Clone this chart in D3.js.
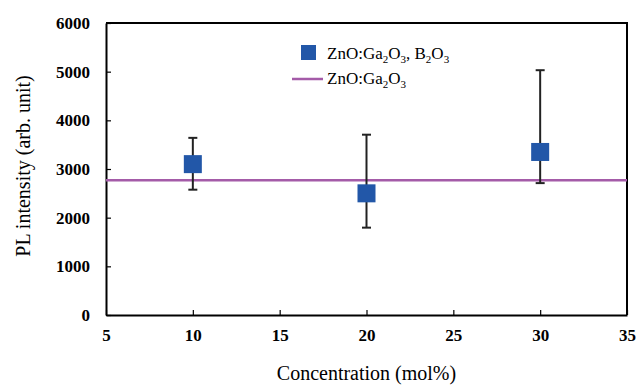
<!DOCTYPE html>
<html>
<head>
<meta charset="utf-8">
<script src="https://cdn.jsdelivr.net/npm/d3@7"></script>
<style>
  body { margin: 0; background: #fff; }
  svg text { font-family: "Liberation Serif", "DejaVu Serif", serif; fill: #000; }
</style>
</head>
<body>
<svg width="636" height="385" font-family="Liberation Serif, serif"></svg>
<script>
const concentrations = [10, 20, 30];
const intensities = [3100, 2500, 3350];
const errLow = [2575, 1795, 2710];
const errHigh = [3640, 3705, 5030];
const referenceLevel = 2770;
const xTicks = [5, 10, 15, 20, 25, 30, 35];
const yTicks = [0, 1000, 2000, 3000, 4000, 5000, 6000];

const svg = d3.select("svg");
const plotLeft = 106, plotRight = 627, plotTop = 23, plotBottom = 315;
const serif = "'Liberation Serif', 'DejaVu Serif', serif";

const x = d3.scaleLinear().domain([5, 35]).range([plotLeft, plotRight]);
const y = d3.scaleLinear().domain([0, 6000]).range([plotBottom, plotTop]);

// axes, ticks pointing inward
const xAxis = svg.append("g")
  .attr("transform", "translate(0," + plotBottom + ")")
  .call(d3.axisBottom(x).tickValues(xTicks).tickFormat(d3.format("d"))
    .tickSizeInner(-5).tickSizeOuter(0).tickPadding(14));
const yAxis = svg.append("g")
  .attr("transform", "translate(" + plotLeft + ",0)")
  .call(d3.axisLeft(y).tickValues(yTicks).tickFormat(d3.format("d"))
    .tickSizeInner(-5).tickSizeOuter(0).tickPadding(16));

[xAxis, yAxis].forEach(function (ax) {
  ax.attr("font-family", serif);
  ax.selectAll("text")
    .attr("font-family", serif)
    .attr("font-size", 17)
    .attr("font-weight", "bold")
    .attr("fill", "#000");
  ax.selectAll("line").attr("stroke", "#000").attr("stroke-width", 1.2);
  ax.select(".domain").attr("stroke", "#000").attr("stroke-width", 2);
});

// remaining frame
svg.append("path")
  .attr("d", "M" + plotLeft + "," + plotTop + "H" + plotRight + "V" + plotBottom)
  .attr("fill", "none")
  .attr("stroke", "#000")
  .attr("stroke-width", 2);

// reference line
svg.append("line")
  .attr("x1", plotLeft).attr("x2", plotRight)
  .attr("y1", y(referenceLevel)).attr("y2", y(referenceLevel))
  .attr("stroke", "#a45ba8")
  .attr("stroke-width", 2.5);

// error bars
const bars = svg.append("g").attr("stroke", "#222").attr("stroke-width", 2);
concentrations.forEach(function (c, i) {
  bars.append("line")
    .attr("x1", x(c)).attr("x2", x(c))
    .attr("y1", y(errLow[i])).attr("y2", y(errHigh[i]));
  [errLow[i], errHigh[i]].forEach(function (v) {
    bars.append("line")
      .attr("x1", x(c) - 4.5).attr("x2", x(c) + 4.5)
      .attr("y1", y(v)).attr("y2", y(v));
  });
});

// squares
const size = 18;
svg.append("g").selectAll("rect")
  .data(concentrations)
  .enter()
  .append("rect")
  .attr("x", function (d) { return x(d) - size / 2; })
  .attr("y", function (d, i) { return y(intensities[i]) - size / 2; })
  .attr("width", size)
  .attr("height", size)
  .attr("fill", "#2257a8");

// axis titles
svg.append("text")
  .attr("x", (plotLeft + plotRight) / 2)
  .attr("y", 380)
  .attr("text-anchor", "middle")
  .attr("font-family", serif)
  .attr("font-size", 20)
  .text("Concentration (mol%)");

svg.append("text")
  .attr("transform", "translate(30,166) rotate(-90)")
  .attr("text-anchor", "middle")
  .attr("font-family", serif)
  .attr("font-size", 20)
  .text("PL intensity (arb. unit)");

// legend
const legend = svg.append("g").attr("font-family", serif).attr("font-size", 17);
legend.append("rect")
  .attr("x", 301).attr("y", 45).attr("width", 15).attr("height", 15)
  .attr("fill", "#2257a8");
const t1 = legend.append("text").attr("x", 327).attr("y", 59);
t1.append("tspan").text("ZnO:Ga");
t1.append("tspan").attr("dy", 4).attr("font-size", 11).text("2");
t1.append("tspan").attr("dy", -4).text("O");
t1.append("tspan").attr("dy", 4).attr("font-size", 11).text("3");
t1.append("tspan").attr("dy", -4).text(", B");
t1.append("tspan").attr("dy", 4).attr("font-size", 11).text("2");
t1.append("tspan").attr("dy", -4).text("O");
t1.append("tspan").attr("dy", 4).attr("font-size", 11).text("3");

legend.append("line")
  .attr("x1", 292).attr("x2", 323).attr("y1", 79).attr("y2", 79)
  .attr("stroke", "#a45ba8").attr("stroke-width", 2.5);
const t2 = legend.append("text").attr("x", 327).attr("y", 84);
t2.append("tspan").text("ZnO:Ga");
t2.append("tspan").attr("dy", 4).attr("font-size", 11).text("2");
t2.append("tspan").attr("dy", -4).text("O");
t2.append("tspan").attr("dy", 4).attr("font-size", 11).text("3");
</script>
</body>
</html>
